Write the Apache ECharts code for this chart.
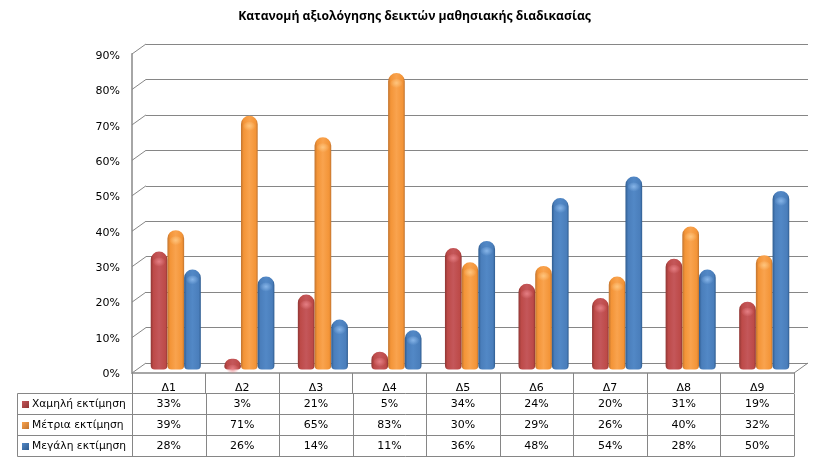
<!DOCTYPE html>
<html>
<head>
<meta charset="utf-8">
<style>
html, body { margin: 0; padding: 0; background: #fff; }
#chart { width: 823px; height: 465px; }
</style>
<script src="https://cdn.jsdelivr.net/npm/echarts@6/dist/echarts.min.js"></script>
</head>
<body>
<div id="chart"></div>
<script>
const categories = ['Δ1', 'Δ2', 'Δ3', 'Δ4', 'Δ5', 'Δ6', 'Δ7', 'Δ8', 'Δ9']
const lowValues = [33, 3, 21, 5, 34, 24, 20, 31, 19]
const midValues = [39, 71, 65, 83, 30, 29, 26, 40, 32]
const highValues = [28, 26, 14, 11, 36, 48, 54, 28, 50]
const seriesNames = ['Χαμηλή εκτίμηση', 'Μέτρια εκτίμηση', 'Μεγάλη εκτίμηση']
const yTicks = [0, 10, 20, 30, 40, 50, 60, 70, 80, 90]

const font = '"DejaVu Sans", sans-serif'
const lineColor = '#868686'
const barWidth = 16.7
const depthX = 14
const depthY = 10

const chart = echarts.init(document.getElementById('chart'))

const cylinder = (dark, base, light) => new echarts.graphic.LinearGradient(0, 0, 1, 0, [
	{ offset: 0, color: dark },
	{ offset: 0.16, color: base },
	{ offset: 0.5, color: light },
	{ offset: 0.88, color: base },
	{ offset: 1, color: dark }
])

const colors = [
	['#8f3634', '#bd4a48', '#c4575a'],
	['#c17430', '#f39437', '#f9a34e'],
	['#2f5c8f', '#4a7ebb', '#5288c6']
]
const glows = ['rgba(232,130,135,', 'rgba(255,200,130,', 'rgba(140,185,235,']

const barSeries = [lowValues, midValues, highValues].map((values, i) => ({
	name: seriesNames[i],
	type: 'bar',
	xAxisIndex: 2,
	yAxisIndex: 2,
	barWidth,
	barGap: 0,
	z: 3,
	itemStyle: {
		color: cylinder(colors[i][0], colors[i][1], colors[i][2]),
		borderRadius: [8.3, 8.3, 4, 4]
	},
	data: values
}))

// soft highlight on the dome of every bar
const capSeries = [lowValues, midValues, highValues].map((values, i) => ({
	type: 'pictorialBar',
	xAxisIndex: 2,
	yAxisIndex: 2,
	barWidth,
	barGap: 0,
	z: 4,
	silent: true,
	symbol: 'circle',
	symbolPosition: 'end',
	symbolSize: [13, 10],
	symbolOffset: [0, '60%'],
	itemStyle: {
		color: new echarts.graphic.RadialGradient(0.5, 0.4, 0.5, [
			{ offset: 0, color: glows[i] + '0.9)' },
			{ offset: 1, color: glows[i] + '0)' }
		])
	},
	data: values
}))

const option = {
	backgroundColor: '#fff',
	animation: false,
	title: {
		text: 'Κατανομή αξιολόγησης δεικτών μαθησιακής διαδικασίας',
		left: 409.5,
		top: 6,
		textAlign: 'center',
		textStyle: { fontFamily: '"Open Sans", sans-serif', fontSize: 12.2, fontWeight: 'bold', color: '#000' }
	},
	grid: [
		{ left: 132, right: 29, top: 54, bottom: 92 },
		{ left: 132 + depthX, right: 29 - depthX, top: 54 - depthY, bottom: 92 + depthY },
		{ left: 132 + depthX / 2, right: 29 - depthX / 2, top: 48, bottom: 95.5 },
		// only carries the y labels, they sit a little under the front wall ticks
		{ left: 132, right: 29, top: 56, bottom: 91 }
	],
	xAxis: [
		{
			type: 'category',
			gridIndex: 0,
			data: categories,
			axisLine: { lineStyle: { color: '#a6a6a6', width: 2 } },
			axisTick: { show: true, length: 20, lineStyle: { color: lineColor } },
			axisLabel: { margin: 10, fontFamily: font, fontSize: 11, color: '#000' }
		},
		{ type: 'category', gridIndex: 1, data: categories, show: false },
		{ type: 'category', gridIndex: 2, data: categories, show: false },
		{ type: 'category', gridIndex: 3, data: categories, show: false }
	],
	yAxis: [
		{
			type: 'value',
			gridIndex: 0,
			min: 0,
			max: 90,
			interval: 10,
			axisLine: { show: true, lineStyle: { color: '#a6a6a6', width: 2 } },
			axisTick: { show: false },
			axisLabel: { show: false },
			splitLine: { show: false }
		},
		{
			type: 'value',
			gridIndex: 1,
			min: 0,
			max: 90,
			interval: 10,
			axisLine: { show: false },
			axisTick: { show: false },
			axisLabel: { show: false },
			splitLine: { show: true, lineStyle: { color: lineColor, width: 1 } }
		},
		{ type: 'value', gridIndex: 2, min: 0, max: 90, show: false },
		{
			type: 'value',
			gridIndex: 3,
			min: 0,
			max: 90,
			interval: 10,
			axisLine: { show: false },
			axisTick: { show: false },
			splitLine: { show: false },
			axisLabel: { margin: 12, formatter: '{value}%', fontFamily: font, fontSize: 11, color: '#000' }
		}
	],
	series: [...barSeries, ...capSeries]
}

chart.setOption(option)

// the side wall diagonals and the data table under the axis
const buildGraphics = () => {
	const items = []
	const line = (x1, y1, x2, y2, color = lineColor) => items.push({
		type: 'line',
		silent: true,
		z: 1,
		shape: { x1, y1, x2, y2 },
		style: { stroke: color, lineWidth: 1 }
	})
	const text = (x, y, str, align, size = 11) => items.push({
		type: 'text',
		silent: true,
		x,
		y,
		style: { text: str, fill: '#000', font: size + 'px ' + font, align, verticalAlign: 'middle' }
	})

	const left = 132
	const right = 794
	yTicks.forEach(v => {
		const y = chart.convertToPixel({ yAxisIndex: 0 }, v)
		line(left, y, left + depthX, y - depthY)
	})
	const floor = chart.convertToPixel({ yAxisIndex: 0 }, 0)
	line(right, floor, right + depthX, floor - depthY)

	const tableLeft = 17.5
	const rowTop = 393.5
	const rowHeight = 21
	const colWidth = (right - left) / categories.length
	const rows = [lowValues, midValues, highValues]

	for (let r = 0; r <= rows.length; r++) {
		line(tableLeft, rowTop + r * rowHeight, right, rowTop + r * rowHeight)
	}
	line(tableLeft, rowTop, tableLeft, rowTop + rows.length * rowHeight)
	for (let c = 0; c <= categories.length; c++) {
		const x = Math.round(left + c * colWidth) + 0.5
		line(x, rowTop, x, rowTop + rows.length * rowHeight)
	}
	rows.forEach((values, r) => {
		const cy = rowTop + r * rowHeight + rowHeight / 2 + 0.5
		items.push({
			type: 'rect',
			silent: true,
			shape: { x: 22, y: cy - 3.5, width: 7, height: 7 },
			style: {
				fill: new echarts.graphic.LinearGradient(0, 0, 1, 1, [
					{ offset: 0, color: colors[r][2] },
					{ offset: 1, color: colors[r][0] }
				])
			}
		})
		text(32, cy, seriesNames[r], 'left', 10.7)
		values.forEach((v, c) => text(left + (c + 0.5) * colWidth, cy, v + '%', 'center'))
	})
	return items
}

chart.setOption({ graphic: { elements: buildGraphics() } })
</script>
</body>
</html>
